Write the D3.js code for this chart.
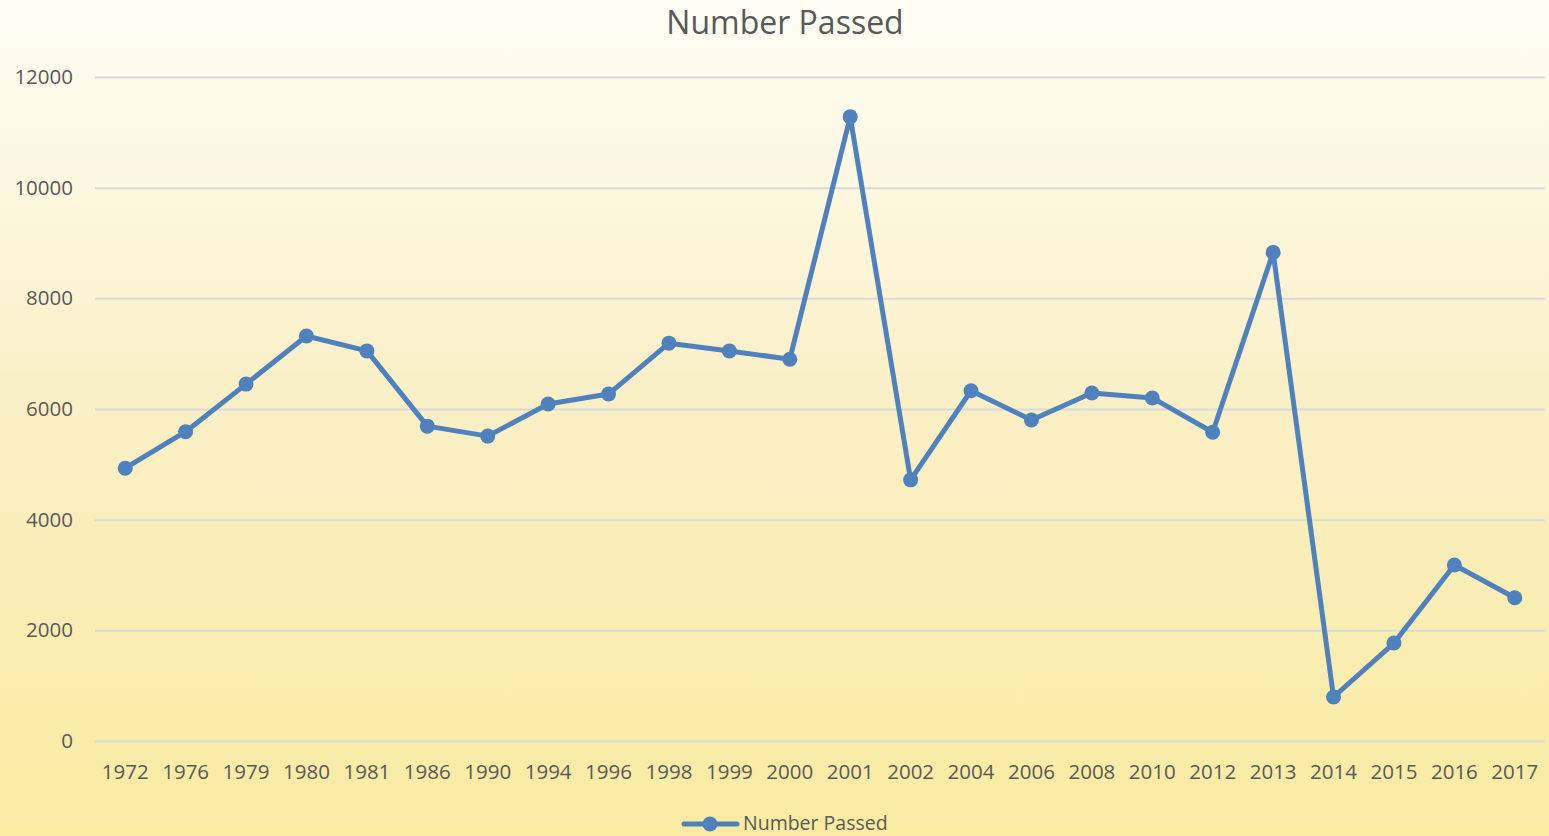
<!DOCTYPE html>
<html>
<head>
<meta charset="utf-8">
<script src="https://cdn.jsdelivr.net/npm/d3@7"></script>
<style>
  html, body { margin: 0; padding: 0; background: #fff; }
  svg { display: block; }
  text { font-family: "Open Sans", "Noto Sans", sans-serif; fill: #595959; }
</style>
</head>
<body>
<svg id="chart" width="1549" height="836"></svg>
<script>
const title = "Number Passed";
const seriesName = "Number Passed";
const years = ["1972","1976","1979","1980","1981","1986","1990","1994","1996","1998","1999","2000",
               "2001","2002","2004","2006","2008","2010","2012","2013","2014","2015","2016","2017"];
const passed = [4930, 5590, 6450, 7320, 7050, 5690, 5510, 6090, 6270, 7190, 7050, 6900,
                11280, 4720, 6330, 5800, 6290, 6200, 5580, 8830, 795, 1770, 3180, 2590];
const yTicks = [0, 2000, 4000, 6000, 8000, 10000, 12000];

const W = 1549, H = 836;
const plot = { left: 95, right: 1545, top: 77, bottom: 741 };
const lineColor = "#4f81bd";

const svg = d3.select("#chart");

// background gradient
const defs = svg.append("defs");
const grad = defs.append("linearGradient").attr("id", "bg").attr("x1", 0).attr("y1", 0).attr("x2", 0).attr("y2", 1);
grad.append("stop").attr("offset", "0%").attr("stop-color", "#fffef6");
grad.append("stop").attr("offset", "45%").attr("stop-color", "#faf0c8");
grad.append("stop").attr("offset", "100%").attr("stop-color", "#f9eba1");
svg.append("rect").attr("width", W).attr("height", H).attr("fill", "url(#bg)");

const x = d3.scaleBand().domain(years).range([plot.left, plot.right]).padding(0);
const cx = d => x(d) + x.bandwidth() / 2;
const y = d3.scaleLinear().domain([0, 12000]).range([plot.bottom, plot.top]);

// y axis with gridlines
const yAxis = svg.append("g")
  .attr("transform", `translate(${plot.left},0)`)
  .call(d3.axisLeft(y).tickValues(yTicks).tickSize(-(plot.right - plot.left)).tickPadding(22).tickFormat(d3.format("d")));
yAxis.select(".domain").remove();
yAxis.selectAll(".tick line").attr("stroke", "#d9d9d9").attr("stroke-width", 2);
yAxis.selectAll(".tick text").attr("font-size", 20.5).attr("fill", "#595959")
  .style("font-family", '"Open Sans", "Noto Sans", sans-serif');

// x axis
const xAxis = svg.append("g")
  .attr("transform", `translate(0,${plot.bottom})`)
  .call(d3.axisBottom(x).tickSize(0).tickPadding(0));
xAxis.select(".domain").remove();
xAxis.selectAll(".tick text").attr("font-size", 20.5).attr("fill", "#595959")
  .attr("y", 38).attr("dy", 0)
  .style("font-family", '"Open Sans", "Noto Sans", sans-serif');

// line
const line = d3.line().x((d, i) => cx(years[i])).y(d => y(d));
svg.append("path").datum(passed)
  .attr("d", line).attr("fill", "none")
  .attr("stroke", lineColor).attr("stroke-width", 5)
  .attr("stroke-linejoin", "round").attr("stroke-linecap", "round");

svg.append("g").selectAll("circle").data(passed).join("circle")
  .attr("cx", (d, i) => cx(years[i])).attr("cy", d => y(d))
  .attr("r", 7.5).attr("fill", lineColor);

// title
svg.append("text").attr("x", 785).attr("y", 34).attr("text-anchor", "middle")
  .attr("font-size", 32).text(title);

// legend
const lg = svg.append("g");
lg.append("line").attr("x1", 684).attr("x2", 737).attr("y1", 824).attr("y2", 824)
  .attr("stroke", lineColor).attr("stroke-width", 5).attr("stroke-linecap", "round");
lg.append("circle").attr("cx", 710).attr("cy", 824).attr("r", 7.5).attr("fill", lineColor);
lg.append("text").attr("x", 743).attr("y", 829.5).attr("font-size", 19.5).text(seriesName);
</script>
</body>
</html>
